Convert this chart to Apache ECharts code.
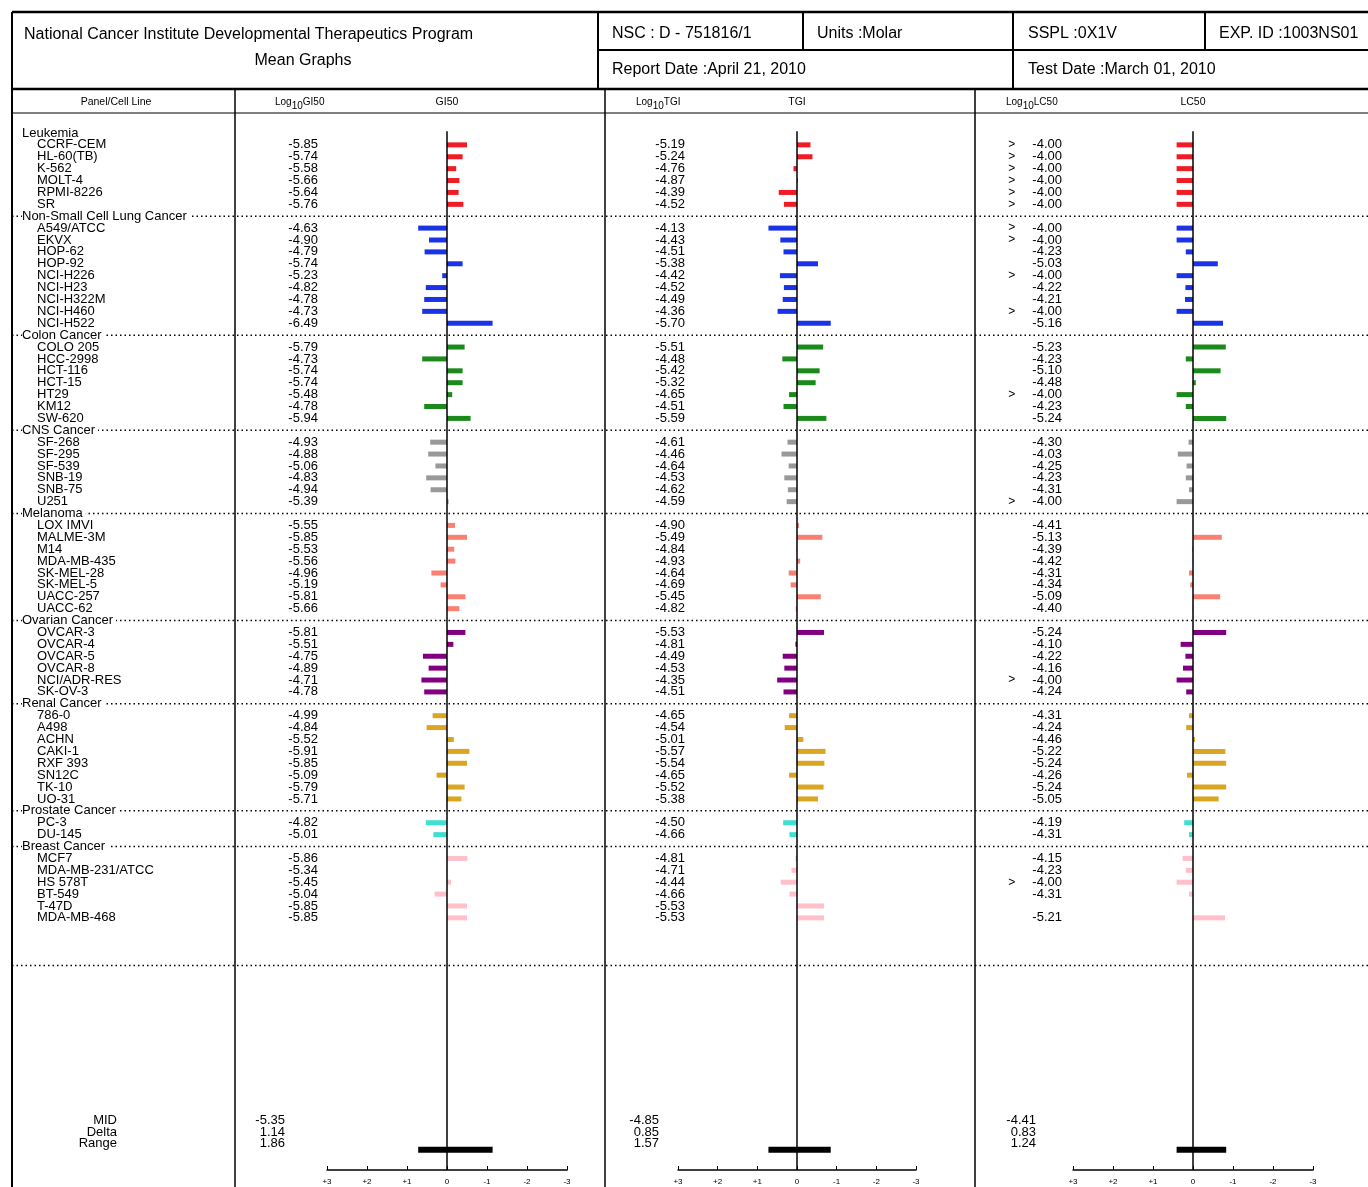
<!DOCTYPE html>
<html>
<head>
<meta charset="UTF-8">
<title>Mean Graphs</title>
<script src="https://cdn.jsdelivr.net/npm/echarts@6/dist/echarts.min.js"></script>
<style>
  html, body { margin: 0; padding: 0; background: #fff; }
  #main { width: 1368px; height: 1187px; }
</style>
</head>
<body>
<div id="main"></div>
<script>
// panels and cell lines
var panels = ['Leukemia', 'Non-Small Cell Lung Cancer', 'Colon Cancer', 'CNS Cancer', 'Melanoma',
  'Ovarian Cancer', 'Renal Cancer', 'Prostate Cancer', 'Breast Cancer'];
var panelColors = ['#ee1c24', '#1a33e6', '#1a8a1a', '#999999', '#fa8072', '#800080', '#daa520', '#40e0d0', '#ffc0cb'];
var cellLines = [
  ['CCRF-CEM', 'HL-60(TB)', 'K-562', 'MOLT-4', 'RPMI-8226', 'SR'],
  ['A549/ATCC', 'EKVX', 'HOP-62', 'HOP-92', 'NCI-H226', 'NCI-H23', 'NCI-H322M', 'NCI-H460', 'NCI-H522'],
  ['COLO 205', 'HCC-2998', 'HCT-116', 'HCT-15', 'HT29', 'KM12', 'SW-620'],
  ['SF-268', 'SF-295', 'SF-539', 'SNB-19', 'SNB-75', 'U251'],
  ['LOX IMVI', 'MALME-3M', 'M14', 'MDA-MB-435', 'SK-MEL-28', 'SK-MEL-5', 'UACC-257', 'UACC-62'],
  ['OVCAR-3', 'OVCAR-4', 'OVCAR-5', 'OVCAR-8', 'NCI/ADR-RES', 'SK-OV-3'],
  ['786-0', 'A498', 'ACHN', 'CAKI-1', 'RXF 393', 'SN12C', 'TK-10', 'UO-31'],
  ['PC-3', 'DU-145'],
  ['MCF7', 'MDA-MB-231/ATCC', 'HS 578T', 'BT-549', 'T-47D', 'MDA-MB-468']
];
var gi50 = [
  [-5.85, -5.74, -5.58, -5.66, -5.64, -5.76],
  [-4.63, -4.90, -4.79, -5.74, -5.23, -4.82, -4.78, -4.73, -6.49],
  [-5.79, -4.73, -5.74, -5.74, -5.48, -4.78, -5.94],
  [-4.93, -4.88, -5.06, -4.83, -4.94, -5.39],
  [-5.55, -5.85, -5.53, -5.56, -4.96, -5.19, -5.81, -5.66],
  [-5.81, -5.51, -4.75, -4.89, -4.71, -4.78],
  [-4.99, -4.84, -5.52, -5.91, -5.85, -5.09, -5.79, -5.71],
  [-4.82, -5.01],
  [-5.86, -5.34, -5.45, -5.04, -5.85, -5.85]
];
var tgi = [
  [-5.19, -5.24, -4.76, -4.87, -4.39, -4.52],
  [-4.13, -4.43, -4.51, -5.38, -4.42, -4.52, -4.49, -4.36, -5.70],
  [-5.51, -4.48, -5.42, -5.32, -4.65, -4.51, -5.59],
  [-4.61, -4.46, -4.64, -4.53, -4.62, -4.59],
  [-4.90, -5.49, -4.84, -4.93, -4.64, -4.69, -5.45, -4.82],
  [-5.53, -4.81, -4.49, -4.53, -4.35, -4.51],
  [-4.65, -4.54, -5.01, -5.57, -5.54, -4.65, -5.52, -5.38],
  [-4.50, -4.66],
  [-4.81, -4.71, -4.44, -4.66, -5.53, -5.53]
];
var lc50 = [
  [-4.00, -4.00, -4.00, -4.00, -4.00, -4.00],
  [-4.00, -4.00, -4.23, -5.03, -4.00, -4.22, -4.21, -4.00, -5.16],
  [-5.23, -4.23, -5.10, -4.48, -4.00, -4.23, -5.24],
  [-4.30, -4.03, -4.25, -4.23, -4.31, -4.00],
  [-4.41, -5.13, -4.39, -4.42, -4.31, -4.34, -5.09, -4.40],
  [-5.24, -4.10, -4.22, -4.16, -4.00, -4.24],
  [-4.31, -4.24, -4.46, -5.22, -5.24, -4.26, -5.24, -5.05],
  [-4.19, -4.31],
  [-4.15, -4.23, -4.00, -4.31, null, -5.21]
];
var lc50Greater = [
  [1, 1, 1, 1, 1, 1],
  [1, 1, 0, 0, 1, 0, 0, 1, 0],
  [0, 0, 0, 0, 1, 0, 0],
  [0, 0, 0, 0, 0, 1],
  [0, 0, 0, 0, 0, 0, 0, 0],
  [0, 0, 0, 0, 1, 0],
  [0, 0, 0, 0, 0, 0, 0, 0],
  [0, 0],
  [0, 0, 1, 0, 0, 0]
];
var summaryNames = ['MID', 'Delta', 'Range'];
var summary = [['-5.35', '1.14', '1.86'], ['-4.85', '0.85', '1.57'], ['-4.41', '0.83', '1.24']];
var means = [-5.35, -4.85, -4.41];

var FONT = '"Liberation Sans", Arial, sans-serif';
var Y_MIN = -4, Y_MAX = 87.2, SUM_ROW = 83, END_ROW = 70;
var TOP = 85.4, HEIGHT = 1084.6;

// row layout
var rowName = {}, rowColor = {}, rowCell = {}, sepRows = [];
var r = 0;
panels.forEach(function (p, pi) {
  if (pi > 0) sepRows.push(r);
  rowName[r] = '{h|' + p + '}';
  r++;
  cellLines[pi].forEach(function (c, ci) {
    rowName[r] = '{c|' + c + '}';
    rowColor[r] = panelColors[pi];
    rowCell[r] = [pi, ci];
    r++;
  });
});
sepRows.push(END_ROW);
summaryNames.forEach(function (s, i) { rowName[SUM_ROW + i] = '{m|' + s + '}'; });

var sets = [gi50, tgi, lc50];
var gridLefts = [327, 678, 1073], gridWidths = [240, 238, 240];
var valMargins = [9, -7, 11], sumMargins = [42, 19, 37];

var grids = [{ left: 12, right: 0, top: TOP, height: HEIGHT }];
var xAxes = [{ gridIndex: 0, type: 'value', min: 0, max: 1, show: false }];
var yAxes = [];
function yBase(grid) {
  return {
    gridIndex: grid, type: 'value', inverse: true, min: Y_MIN, max: Y_MAX, interval: 1,
    axisLine: { show: false }, axisTick: { show: false }, splitLine: { show: false },
    position: 'left'
  };
}
var nameAxis = yBase(0);
nameAxis.z = 5;
nameAxis.axisLabel = {
  align: 'left', margin: -10, showMinLabel: true, showMaxLabel: false,
  formatter: function (v) { return rowName[Math.round(v)] || ''; },
  rich: {
    h: { fontFamily: FONT, fontSize: 13, color: '#000', backgroundColor: '#fff', padding: [0, 3, 0, 0] },
    c: { fontFamily: FONT, fontSize: 13, color: '#000', padding: [0, 0, 0, 15] },
    m: { fontFamily: FONT, fontSize: 13, color: '#000', width: 95, align: 'right' }
  }
};
yAxes.push(nameAxis);

var series = [{
  type: 'custom', xAxisIndex: 0, yAxisIndex: 0, z: 1,
  data: sepRows.map(function (s) { return [0, s]; }),
  renderItem: function (params, api) {
    var a = api.coord([0, api.value(1)]), b = api.coord([1, api.value(1)]);
    return { type: 'line', shape: { x1: a[0], y1: a[1], x2: b[0], y2: b[1] },
      style: { stroke: '#000', lineWidth: 1.5, lineDash: [1.5, 3] } };
  }
}];

sets.forEach(function (set, k) {
  var g = k + 1;
  grids.push({ left: gridLefts[k], width: gridWidths[k], top: TOP, height: HEIGHT });
  xAxes.push({
    gridIndex: g, type: 'value', min: -3, max: 3, interval: 1, position: 'bottom',
    axisLine: { show: true, onZero: false, lineStyle: { color: '#000', width: 1.5 } },
    axisTick: { show: true, inside: true, length: 4, lineStyle: { color: '#000' } },
    splitLine: { show: false },
    axisLabel: { fontFamily: FONT, fontSize: 8, color: '#000', margin: 8,
      formatter: function (v) { return v > 0 ? '-' + v : (v < 0 ? '+' + (-v) : '0'); } }
  });
  var va = yBase(g);
  va.axisLabel = {
    margin: valMargins[k], align: 'right',
    formatter: function (v) {
      var c = rowCell[Math.round(v)];
      if (!c) return '';
      var val = set[c[0]][c[1]];
      if (val === null) return '';
      if (k === 2) return '{g|' + (lc50Greater[c[0]][c[1]] ? '>' : ' ') + '}{v|' + val.toFixed(2) + '}';
      return '{v|' + val.toFixed(2) + '}';
    },
    rich: {
      v: { fontFamily: FONT, fontSize: 13, color: '#000' },
      g: { fontFamily: FONT, fontSize: 12, color: '#000', width: 24, align: 'left' }
    }
  };
  var sa = yBase(g);
  sa.axisLabel = {
    margin: sumMargins[k], align: 'right', fontFamily: FONT, fontSize: 13, color: '#000',
    formatter: function (v) {
      var i = Math.round(v) - SUM_ROW;
      return (i >= 0 && i < 3) ? summary[k][i] : '';
    }
  };
  var yi = yAxes.length;
  yAxes.push(va, sa);

  var barData = [], lo = Infinity, hi = -Infinity;
  Object.keys(rowCell).forEach(function (row) {
    var c = rowCell[row], val = set[c[0]][c[1]];
    if (val === null) return;
    lo = Math.min(lo, val); hi = Math.max(hi, val);
    barData.push({ value: [0, means[k] - val, +row], itemStyle: { color: rowColor[row] } });
  });
  barData.push({ value: [means[k] - hi, means[k] - lo, SUM_ROW + 2.5], itemStyle: { color: '#000' } });

  series.push({
    type: 'custom', xAxisIndex: g, yAxisIndex: yi, z: 3, clip: false,
    data: barData,
    renderItem: function (params, api) {
      var y = api.value(2);
      var a = api.coord([api.value(0), y]), b = api.coord([api.value(1), y]);
      var h = y > SUM_ROW ? 6 : 5;
      return { type: 'rect', shape: { x: Math.min(a[0], b[0]), y: a[1] - h / 2, width: Math.abs(b[0] - a[0]), height: h },
        style: api.style() };
    }
  });
  series.push({
    type: 'custom', xAxisIndex: g, yAxisIndex: yi, z: 4, clip: false,
    data: [[0, -0.15, Y_MAX]],
    renderItem: function (params, api) {
      var a = api.coord([0, api.value(1)]), b = api.coord([0, api.value(2)]);
      return { type: 'line', shape: { x1: a[0], y1: a[1], x2: b[0], y2: b[1] }, style: { stroke: '#000', lineWidth: 1.5 } };
    }
  });
});

// frame and header
function ln(x1, y1, x2, y2, w) {
  return { type: 'line', shape: { x1: x1, y1: y1, x2: x2, y2: y2 }, style: { stroke: '#000', lineWidth: w || 1 }, z: 10 };
}
function tx(x, y, s, size, align) {
  return { type: 'text', x: x, y: y, style: { text: s, fontFamily: FONT, fontSize: size, fill: '#000', align: align || 'left', verticalAlign: 'middle' }, z: 10 };
}
function logHead(x, name) {
  return { type: 'text', x: x, y: 102, z: 10, style: {
    text: '{a|Log}{s|10}{a|' + name + '}', fontFamily: FONT, verticalAlign: 'middle',
    rich: { a: { fontSize: 10, fill: '#000' }, s: { fontSize: 10, fill: '#000', padding: [8, 0, 0, 0] } } } };
}
var graphics = [
  ln(12, 12, 1368, 12, 2.5), ln(12, 12, 12, 1187, 2), ln(598, 50, 1368, 50, 2), ln(12, 89, 1368, 89, 2.5),
  ln(12, 113, 1368, 113, 1), ln(598, 12, 598, 89, 2), ln(803, 12, 803, 50, 2), ln(1013, 12, 1013, 89, 2),
  ln(1205, 12, 1205, 50, 2), ln(235, 89, 235, 1187, 1.5), ln(605, 89, 605, 1187, 1.5), ln(975, 89, 975, 1187, 1.5),
  tx(24, 35, 'National Cancer Institute Developmental Therapeutics Program', 16),
  tx(303, 61, 'Mean Graphs', 16, 'center'),
  tx(612, 34, 'NSC : D - 751816/1', 16), tx(817, 34, 'Units :Molar', 16),
  tx(1028, 34, 'SSPL :0X1V', 16), tx(1219, 34, 'EXP. ID :1003NS01', 16),
  tx(612, 70, 'Report Date :April 21, 2010', 16), tx(1028, 70, 'Test Date :March 01, 2010', 16),
  tx(116, 102, 'Panel/Cell Line', 10.5, 'center'),
  logHead(275, 'GI50'), tx(447, 102, 'GI50', 10.5, 'center'),
  logHead(636, 'TGI'), tx(797, 102, 'TGI', 10.5, 'center'),
  logHead(1006, 'LC50'), tx(1193, 102, 'LC50', 10.5, 'center')
];

var chart = echarts.init(document.getElementById('main'));
chart.setOption({
  animation: false,
  grid: grids, xAxis: xAxes, yAxis: yAxes, series: series,
  graphic: graphics
});
</script>
</body>
</html>
